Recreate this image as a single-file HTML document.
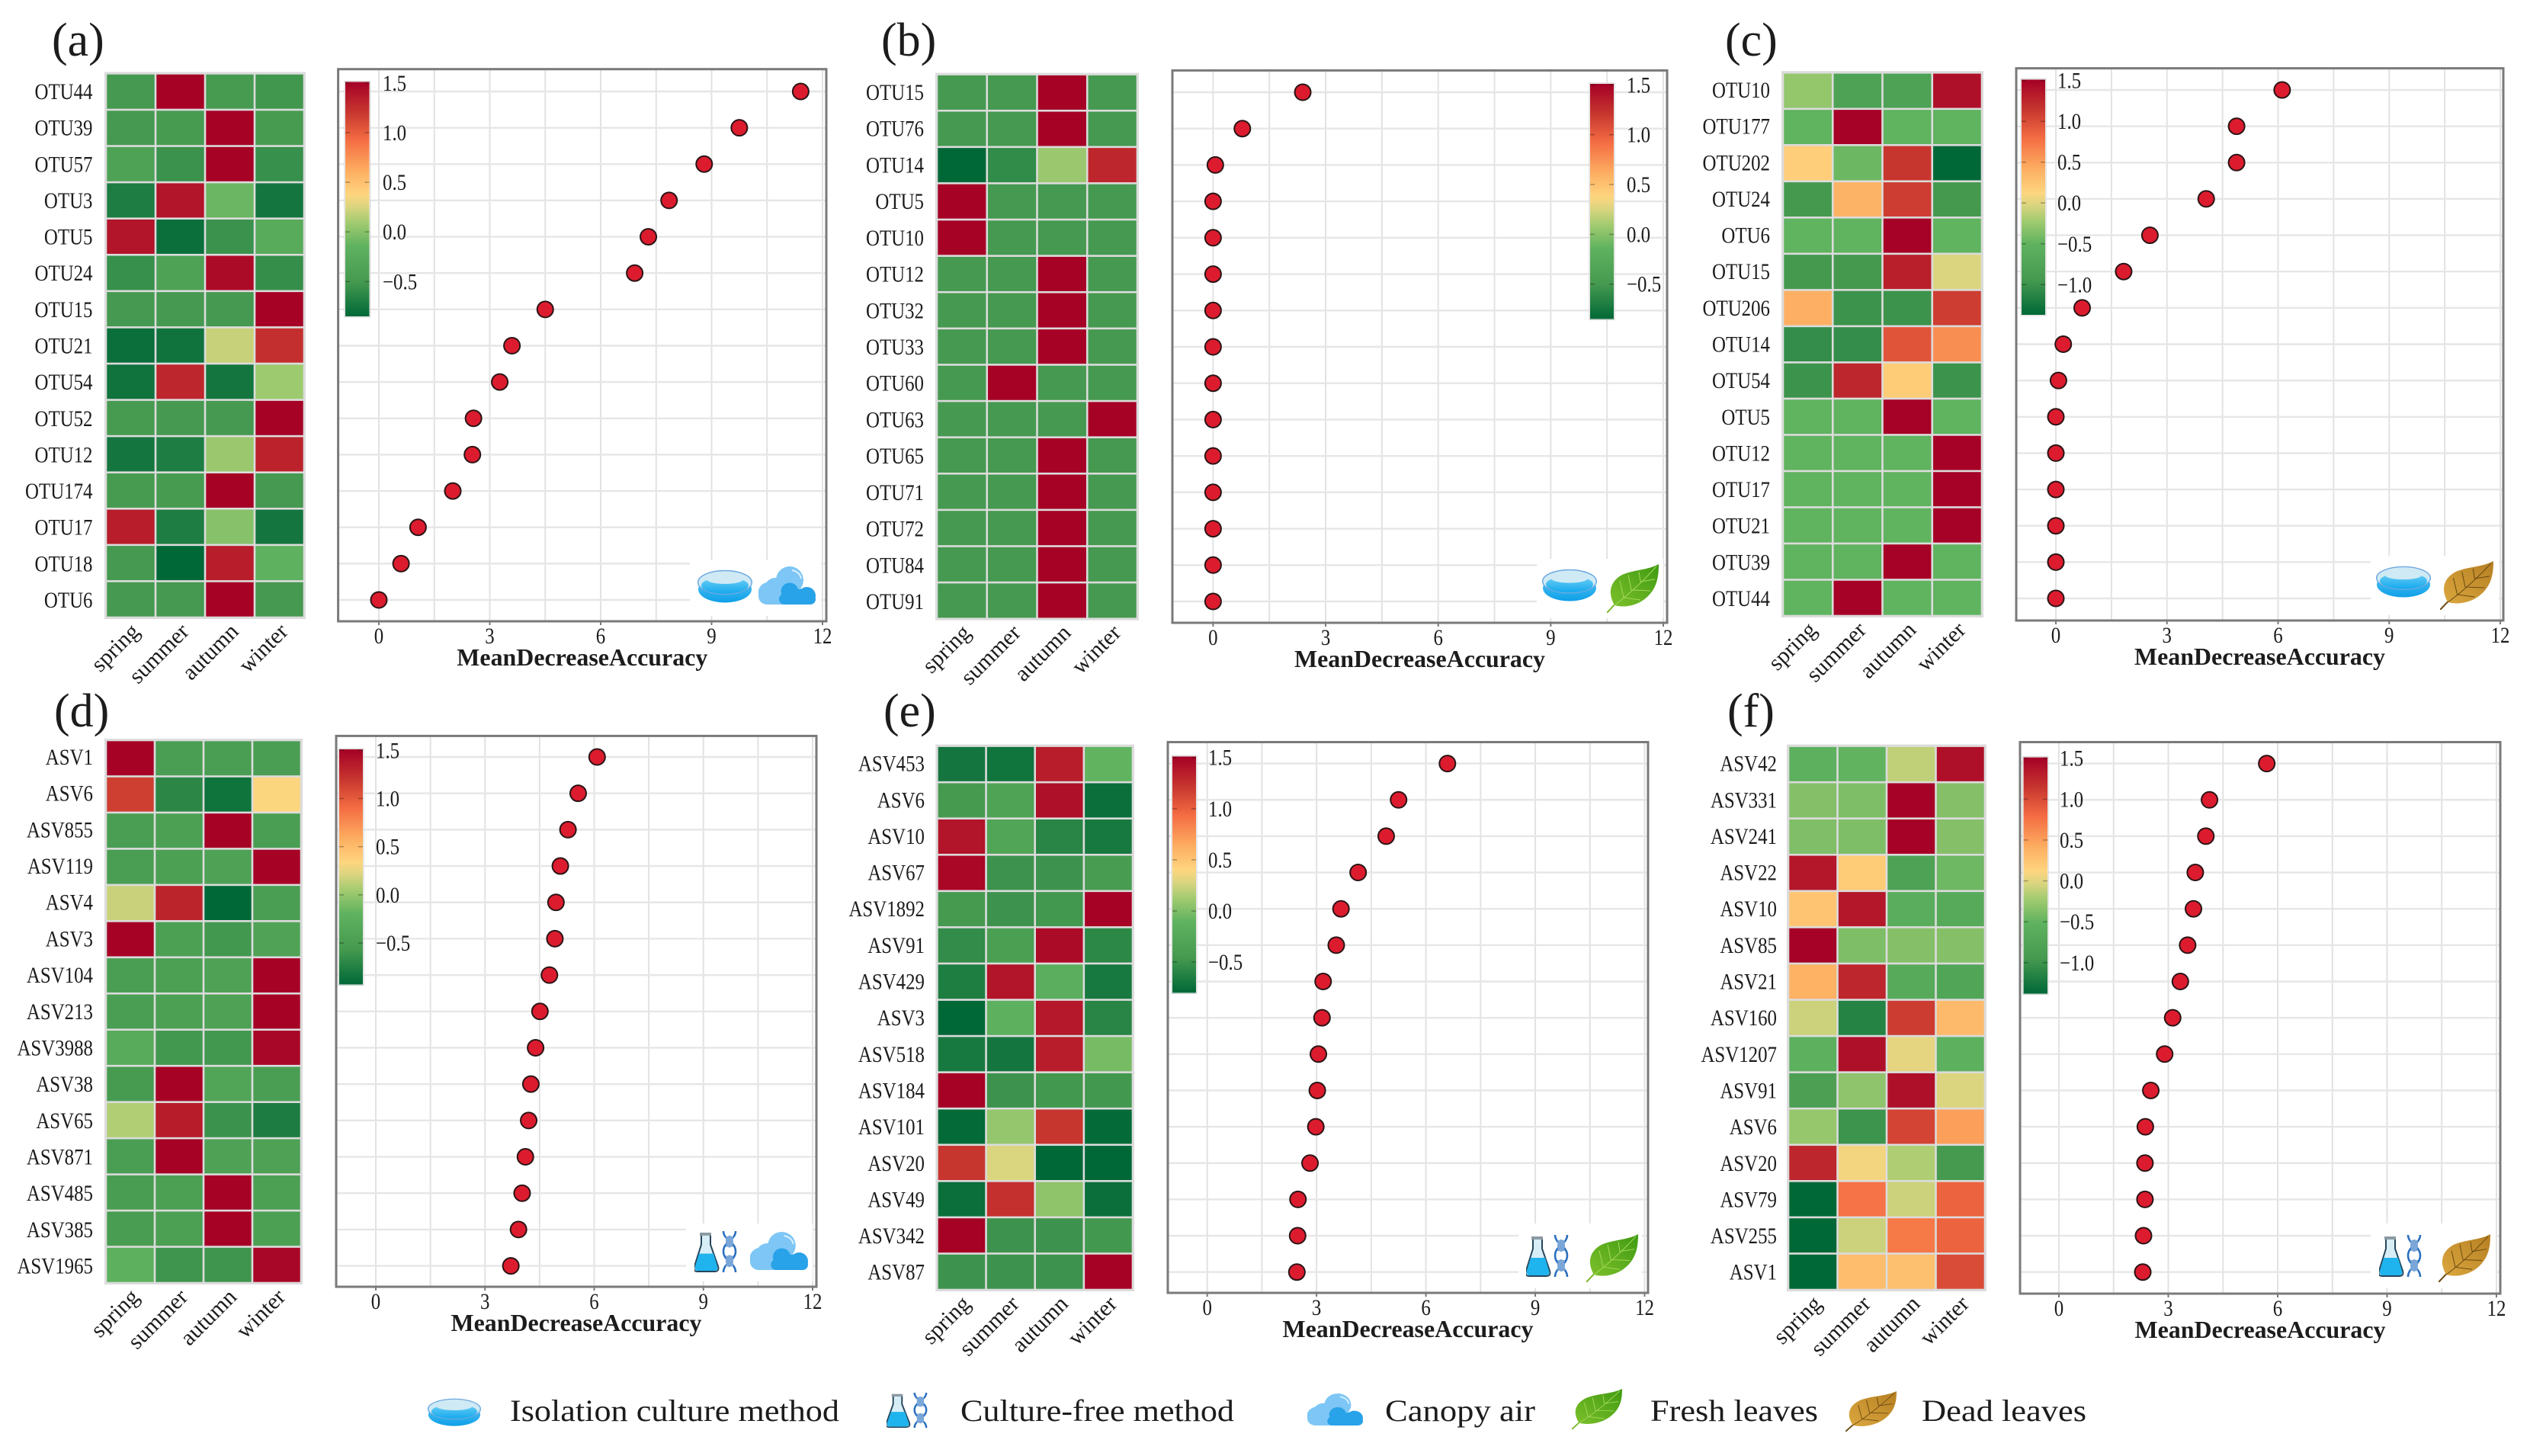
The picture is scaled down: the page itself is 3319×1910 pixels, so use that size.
<!DOCTYPE html>
<html lang="en">
<head>
<meta charset="utf-8">
<title>Indicator taxa by season</title>
<style>
html,body{margin:0;padding:0;background:#fff;}
body{width:3319px;height:1910px;overflow:hidden;}
svg{display:block;}
text{font-family:"Liberation Serif",serif;fill:#1c1c1c;}
</style>
</head>
<body>
<svg id="figure" width="3319" height="1910" viewBox="0 0 3319 1910">
  <defs>
    <linearGradient id="dish-body" x1="0" y1="0" x2="0" y2="1">
      <stop offset="0" stop-color="#5cc8f5"/><stop offset="1" stop-color="#0d9fe8"/>
    </linearGradient>
    <linearGradient id="dish-liquid" x1="0" y1="0" x2="0" y2="1">
      <stop offset="0" stop-color="#6fd0f5"/><stop offset="1" stop-color="#14a8ee"/>
    </linearGradient>
    <linearGradient id="fresh-fill" x1="0" y1="1" x2="1" y2="0">
      <stop offset="0" stop-color="#7cc02a"/><stop offset="1" stop-color="#3f9a12"/>
    </linearGradient>
    <linearGradient id="dead-fill" x1="0" y1="1" x2="1" y2="0">
      <stop offset="0" stop-color="#dba73f"/><stop offset="1" stop-color="#b57f22"/>
    </linearGradient>
    <symbol id="icon-dish" viewBox="0 0 72 44" preserveAspectRatio="none">
      <ellipse cx="36" cy="26" rx="35" ry="17.5" fill="url(#dish-body)"/>
      <ellipse cx="36" cy="17" rx="35.3" ry="15.5" fill="#cfeaf5" stroke="#6fa9e0" stroke-width="1.5"/>
      <ellipse cx="36" cy="21" rx="31" ry="11" fill="url(#dish-liquid)"/>
      <ellipse cx="36" cy="13" rx="24" ry="6" fill="#cfeaf5"/>
    </symbol>
    <symbol id="icon-cloud" viewBox="0 0 75 50" preserveAspectRatio="none">
      <g fill="#7dc6f5">
        <circle cx="41" cy="18" r="18"/><circle cx="22" cy="29" r="14"/><circle cx="14" cy="35" r="14.5"/><rect x="0" y="28" width="62" height="22" rx="11"/>
      </g>
      <g fill="#28a2e8">
        <circle cx="41" cy="33" r="11.5"/><circle cx="63.5" cy="38.5" r="11.5"/><rect x="27" y="36" width="48" height="14" rx="7"/>
        <rect x="35" y="30" width="30" height="20"/>
      </g>
      <path d="M44 5 Q54 7 56 16" stroke="#d8f0fd" stroke-width="2" fill="none"/>
    </symbol>
    <symbol id="icon-fresh-leaf" viewBox="0 0 68 64" preserveAspectRatio="none">
      <path d="M0 64 L13 50" stroke="#7cb82e" stroke-width="2" fill="none"/>
      <path d="M10 54 C2 40 2 24 20 14 C36 7 54 8 68 0 C68 16 66 30 54 42 C42 54 24 58 10 54Z" fill="url(#fresh-fill)"/>
      <path d="M10 54 C26 42 46 24 65 3 M22 44 L17 22 M32 34 L28 14 M44 23 L42 10 M22 44 L44 47 M32 34 L57 35 M44 23 L63 20" stroke="#a5d85c" stroke-width="1" fill="none"/>
    </symbol>
    <symbol id="icon-dead-leaf" viewBox="0 0 68 64" preserveAspectRatio="none">
      <path d="M0 64 L13 50" stroke="#6b4a12" stroke-width="2" fill="none"/>
      <path d="M10 54 C2 40 2 24 20 14 C36 7 54 8 68 0 C68 16 66 30 54 42 C42 54 24 58 10 54Z" fill="url(#dead-fill)"/>
      <path d="M10 54 C26 42 46 24 65 3 M22 44 L17 22 M32 34 L28 14 M44 23 L42 10 M22 44 L44 47 M32 34 L57 35 M44 23 L63 20" stroke="#6b4a12" stroke-width="1" fill="none"/>
    </symbol>
    <symbol id="icon-flask-dna" viewBox="0 0 58 55" preserveAspectRatio="none">
      <path d="M8 4 H20 V18 L30 47 Q32 54 25 54 H3 Q-3 54 -1 47 L8 18 Z" transform="translate(1 0)" fill="#d8eef6" stroke="#26465c" stroke-width="2"/>
      <path d="M5 30 H24 L29 47 Q30 53 25 53 H4 Q-1 53 0 47 Z" transform="translate(1 0)" fill="#1fb4ee"/>
      <rect x="7" y="2" width="15" height="4" fill="#8b9aa3"/>
      <path d="M38 0 C38 12 54 14 54 27 C54 40 38 42 38 55" stroke="#2a6fc0" stroke-width="2.6" fill="none"/>
      <path d="M54 0 C54 12 38 14 38 27 C38 40 54 42 54 55" stroke="#2a6fc0" stroke-width="2.6" fill="none"/>
      <path d="M41 8 H51 M43 14 H49 M41 20 H51 M41 34 H51 M43 40 H49 M41 46 H51" stroke="#7aa6d8" stroke-width="2"/>
      <ellipse cx="46" cy="14" rx="5" ry="8" fill="#7aa6d8"/>
      <ellipse cx="46" cy="40" rx="5" ry="8" fill="#7aa6d8"/>
    </symbol>
  </defs>

  <rect x="0" y="0" width="3319" height="1910" fill="#ffffff"/>
  <g id="panels"></g>

  <g>
    <use href="#icon-dish" x="561" y="1834" width="70" height="37"/>
    <text x="669" y="1864" font-size="40" textLength="432" lengthAdjust="spacingAndGlyphs">Isolation culture method</text>
    <use href="#icon-flask-dna" x="1163" y="1827" width="56" height="46"/>
    <text x="1260" y="1864" font-size="40" textLength="359" lengthAdjust="spacingAndGlyphs">Culture-free method</text>
    <use href="#icon-cloud" x="1715" y="1828" width="73" height="42"/>
    <text x="1817" y="1864" font-size="40" textLength="197" lengthAdjust="spacingAndGlyphs">Canopy air</text>
    <use href="#icon-fresh-leaf" x="2062" y="1822" width="66" height="53"/>
    <text x="2165" y="1864" font-size="40" textLength="220" lengthAdjust="spacingAndGlyphs">Fresh leaves</text>
    <use href="#icon-dead-leaf" x="2421" y="1825" width="67" height="53"/>
    <text x="2521" y="1864" font-size="40" textLength="216" lengthAdjust="spacingAndGlyphs">Dead leaves</text>
  </g>
</svg>

<script>
const seasons = ['spring', 'summer', 'autumn', 'winter'];
const xTickValues = [0, 3, 6, 9, 12];
const xGridValues = [0, 1.5, 3, 4.5, 6, 7.5, 9, 10.5, 12];
const xAxisTitle = 'MeanDecreaseAccuracy';

const taxaA = ['OTU44','OTU39','OTU57','OTU3','OTU5','OTU24','OTU15','OTU21','OTU54','OTU52','OTU12','OTU174','OTU17','OTU18','OTU6'];
const scoresA = [11.41,9.75,8.8,7.85,7.29,6.92,4.5,3.6,3.27,2.56,2.53,2.0,1.06,0.6,0];
const heatA = [
  [-.5,1.5,-.48,-.52],[-.5,-.48,1.5,-.48],[-.38,-.55,1.5,-.57],[-.7,1.4,-.1,-.75],[1.4,-.8,-.55,-.25],
  [-.57,-.38,1.45,-.58],[-.5,-.5,-.5,1.5],[-.8,-.77,.2,1.25],[-.77,1.3,-.75,.08],[-.48,-.5,-.5,1.5],
  [-.75,-.7,.07,1.32],[-.48,-.48,1.5,-.5],[1.35,-.7,0,-.75],[-.5,-.85,1.35,-.15],[-.5,-.5,1.5,-.5]
];
const barTicksA = [-0.5,0,0.5,1,1.5];
const barRangeA = [-0.85,1.51];

const taxaB = ['OTU15','OTU76','OTU14','OTU5','OTU10','OTU12','OTU32','OTU33','OTU60','OTU63','OTU65','OTU71','OTU72','OTU84','OTU91'];
const scoresB = [2.39,0.78,0.06,0,0,0,0,0,0,0,0,0,0,0,0];
const heatB = [
  [-.5,-.5,1.5,-.5],[-.5,-.5,1.5,-.5],[-.85,-.6,.07,1.3],[1.5,-.5,-.5,-.5],[1.5,-.5,-.5,-.5],
  [-.5,-.5,1.5,-.5],[-.5,-.5,1.5,-.5],[-.5,-.5,1.5,-.5],[-.5,1.5,-.5,-.5],[-.5,-.5,-.5,1.5],
  [-.5,-.5,1.5,-.5],[-.5,-.5,1.5,-.5],[-.5,-.5,1.5,-.5],[-.5,-.5,1.5,-.5],[-.5,-.5,1.5,-.5]
];
const barTicksB = [-0.5,0,0.5,1,1.5];
const barRangeB = [-0.85,1.51];

const taxaC = ['OTU10','OTU177','OTU202','OTU24','OTU6','OTU15','OTU206','OTU14','OTU54','OTU5','OTU12','OTU17','OTU21','OTU39','OTU44'];
const scoresC = [6.11,4.88,4.88,4.06,2.54,1.83,0.71,0.2,0.07,0,0,0,0,0,0];
const heatC = [
  [-.28,-.8,-.8,1.4],[-.5,1.5,-.5,-.5],[.18,-.45,1.15,-1.37],[-.95,.38,1.1,-.95],[-.5,-.5,1.5,-.5],
  [-.95,-.95,1.3,-.02],[.4,-1,-1,1.1],[-1.05,-1.05,.95,.6],[-1,1.25,.2,-1],[-.5,-.5,1.5,-.5],
  [-.5,-.5,-.5,1.5],[-.5,-.5,-.5,1.5],[-.5,-.5,-.5,1.5],[-.5,-.5,1.5,-.5],[-.5,1.5,-.5,-.5]
];
const barTicksC = [-1,-0.5,0,0.5,1,1.5];
const barRangeC = [-1.37,1.51];

const taxaD = ['ASV1','ASV6','ASV855','ASV119','ASV4','ASV3','ASV104','ASV213','ASV3988','ASV38','ASV65','ASV871','ASV485','ASV385','ASV1965'];
const scoresD = [6.08,5.56,5.28,5.07,4.95,4.92,4.77,4.51,4.39,4.26,4.2,4.11,4.02,3.92,3.71];
const heatD = [
  [1.5,-.5,-.5,-.5],[1.15,-.7,-.85,.33],[-.5,-.48,1.5,-.5],[-.5,-.47,-.45,1.5],[.16,1.3,-.93,-.5],
  [1.5,-.47,-.58,-.42],[-.5,-.47,-.45,1.5],[-.5,-.47,-.45,1.5],[-.3,-.58,-.58,1.47],[-.55,1.5,-.4,-.5],
  [.09,1.35,-.62,-.78],[-.5,1.5,-.45,-.45],[-.52,-.47,1.5,-.47],[-.52,-.47,1.5,-.47],[-.22,-.6,-.6,1.47]
];
const barTicksD = [-0.5,0,0.5,1,1.5];
const barRangeD = [-0.93,1.51];

const taxaE = ['ASV453','ASV6','ASV10','ASV67','ASV1892','ASV91','ASV429','ASV3','ASV518','ASV184','ASV101','ASV20','ASV49','ASV342','ASV87'];
const scoresE = [6.59,5.25,4.91,4.14,3.67,3.54,3.18,3.15,3.05,3.02,2.98,2.82,2.49,2.48,2.46];
const heatE = [
  [-.7,-.72,1.35,-.1],[-.45,-.33,1.42,-.75],[1.4,-.3,-.6,-.68],[1.47,-.5,-.5,-.42],[-.45,-.5,-.47,1.5],
  [-.55,-.38,1.45,-.58],[-.65,1.4,-.16,-.68],[-.8,-.14,1.38,-.6],[-.68,-.7,1.35,-.02],[1.5,-.5,-.47,-.47],
  [-.78,.08,1.22,-.78],[1.22,.28,-.8,-.8],[-.75,1.25,.06,-.75],[1.5,-.5,-.5,-.47],[-.5,-.5,-.5,1.5]
];
const barTicksE = [-0.5,0,0.5,1,1.5];
const barRangeE = [-0.8,1.51];

const taxaF = ['ASV42','ASV331','ASV241','ASV22','ASV10','ASV85','ASV21','ASV160','ASV1207','ASV91','ASV6','ASV20','ASV79','ASV255','ASV1'];
const scoresF = [5.7,4.13,4.03,3.74,3.69,3.53,3.33,3.12,2.9,2.52,2.37,2.36,2.36,2.32,2.3];
const heatF = [
  [-.55,-.5,-.12,1.4],[-.35,-.38,1.5,-.35],[-.37,-.38,1.5,-.35],[1.35,.2,-.8,-.45],[.25,1.35,-.6,-.65],
  [1.5,-.38,-.35,-.35],[.38,1.25,-.65,-.75],[-.08,-1.15,1.1,.32],[-.55,1.4,.02,-.55],[-.85,-.3,1.4,-.02],
  [-.27,-1,1.05,.5],[1.25,.08,-.18,-.95],[-1.38,.75,-.08,.85],[-1.38,-.08,.72,.85],[-1.38,.3,.28,1]
];
const barTicksF = [-1,-0.5,0,0.5,1,1.5];
const barRangeF = [-1.38,1.51];

const colorStops = [
  [0,'#006837'],[.15,'#469a50'],[.3,'#5fb25f'],[.4,'#a2cb70'],[.47,'#dcd580'],[.52,'#fed57f'],
  [.62,'#fdae61'],[.75,'#f46d43'],[.87,'#c8372f'],[1,'#a50026']
];

const panels = [
  {id:'a',taxa:taxaA,scores:scoresA,heat:heatA,barTicks:barTicksA,barRange:barRangeA,
   box:{heat:[139,399,96.4,810],frame:[443.6,1084,90.7,815],zero:497,twelve:1079,rowTop:120,rowBottom:787,bar:[453,484.5,107.5,415],barText:502,labelRight:121.5,letter:[68,73],
   backing:[905,735,172,73],icons:[['icon-dish',915,747,72,44],['icon-cloud',995,743,75,50]]}},
  {id:'b',taxa:taxaB,scores:scoresB,heat:heatB,barTicks:barTicksB,barRange:barRangeB,
   box:{heat:[1229,1492,97.6,811.7],frame:[1538,2187,92.4,817],zero:1591.4,twelve:2182,rowTop:121,rowBottom:789,bar:[2086,2117,110,418.5],barText:2134,labelRight:1212,letter:[1156,73],
   backing:[2016,733,166,78],icons:[['icon-dish',2023,746,72,43],['icon-fresh-leaf',2108,740,68,64]]}},
  {id:'c',taxa:taxaC,scores:scoresC,heat:heatC,barTicks:barTicksC,barRange:barRangeC,
   box:{heat:[2339,2600,95.3,808],frame:[2645,3284,89.6,814],zero:2697,twelve:3280,rowTop:118,rowBottom:785,bar:[2652,2683,104.5,413],barText:2699,labelRight:2322,letter:[2263,73],
   backing:[3110,729,168,78],icons:[['icon-dish',3117,742,72,42],['icon-dead-leaf',3201,736,70,64]]}},
  {id:'d',taxa:taxaD,scores:scoresD,heat:heatD,barTicks:barTicksD,barRange:barRangeD,
   box:{heat:[139,395,971,1683],frame:[441,1071,965.4,1688],zero:493,twelve:1066,rowTop:993,rowBottom:1660.6,bar:[445,476,983,1291.5],barText:493,labelRight:122,letter:[71,953],
   backing:[900,1605,166,76],icons:[['icon-flask-dna',911,1615,58,54],['icon-cloud',984,1616,76,50]]}},
  {id:'e',taxa:taxaE,scores:scoresE,heat:heatE,barTicks:barTicksE,barRange:barRangeE,
   box:{heat:[1229.4,1486,978.6,1692],frame:[1532,2162,973.5,1696],zero:1583.7,twelve:2157.5,rowTop:1001.6,rowBottom:1668.7,bar:[1538,1569,992.4,1302.4],barText:1585,labelRight:1213,letter:[1159,953],
   backing:[1992,1605,162,85],icons:[['icon-flask-dna',2002,1620,58,55],['icon-fresh-leaf',2081,1619,68,63]]}},
  {id:'f',taxa:taxaF,scores:scoresF,heat:heatF,barTicks:barTicksF,barRange:barRangeF,
   box:{heat:[2346,2604,978.6,1692],frame:[2650,3280,973.5,1697],zero:2701,twelve:3275,rowTop:1001.6,rowBottom:1668.7,bar:[2654.6,2686,993.6,1303.6],barText:2702,labelRight:2331,letter:[2266,953],
   backing:[3110,1605,164,85],icons:[['icon-flask-dna',3121,1620,58,55],['icon-dead-leaf',3199,1619,68,63]]}}
];

const svg = document.getElementById('figure');
const NS = svg.namespaceURI;
const root = document.getElementById('panels');

function make(tag, parent, attrs) {
  const node = document.createElementNS(NS, tag);
  for (const key in attrs) node.setAttribute(key, attrs[key]);
  parent.appendChild(node);
  return node;
}
function hexToRgb(hex) {
  return [parseInt(hex.slice(1,3),16), parseInt(hex.slice(3,5),16), parseInt(hex.slice(5,7),16)];
}
function colorAt(t) {
  const c = Math.max(0, Math.min(1, t));
  for (let i = 1; i < colorStops.length; i++) {
    if (c <= colorStops[i][0]) {
      const a = colorStops[i-1], b = colorStops[i];
      const f = (c - a[0]) / (b[0] - a[0]);
      const ca = hexToRgb(a[1]), cb = hexToRgb(b[1]);
      return 'rgb(' + ca.map((v, k) => Math.round(v + (cb[k] - v) * f)).join(',') + ')';
    }
  }
  return colorStops[colorStops.length-1][1];
}
function formatBarTick(v) {
  return (v < 0 ? '\u2212' : '') + Math.abs(v).toFixed(1);
}

const defs = svg.querySelector('defs');
const barGradient = make('linearGradient', defs, {id:'colorbar-gradient', x1:0, y1:1, x2:0, y2:0});
colorStops.forEach(s => make('stop', barGradient, {offset:s[0], 'stop-color':s[1]}));

panels.forEach(p => {
  const b = p.box;
  const group = make('g', root, {});
  
  

  const letter = make('text', group, {x:b.letter[0], y:b.letter[1], 'font-size':62});
  
  
  letter.textContent = '(' + p.id + ')';

  const rowCount = p.taxa.length;
  const rowY = i => b.rowTop + (b.rowBottom - b.rowTop) * i / (rowCount - 1);
  const xPos = v => b.zero + (b.twelve - b.zero) * v / 12;
  const barY = v => b.bar[2] + (p.barRange[1] - v) / (p.barRange[1] - p.barRange[0]) * (b.bar[3] - b.bar[2]);
  const heatColor = v => colorAt((v - p.barRange[0]) / (p.barRange[1] - p.barRange[0]));

  /* heatmap */
  const heatGroup = make('g', group, {});
  
  
  const heatBg = make('rect', heatGroup, {x:b.heat[0]-2, y:b.heat[2]-2, width:b.heat[1]-b.heat[0]+4, height:b.heat[3]-b.heat[2]+4, fill:'#dcdcdc'});
  
  
  const colW = (b.heat[1] - b.heat[0]) / seasons.length;
  const rowH = (b.heat[3] - b.heat[2]) / rowCount;
  p.heat.forEach((row, r) => {
    row.forEach((value, c) => {
      const cell = make('rect', heatGroup, {
        x: b.heat[0] + c * colW + 1.3, y: b.heat[2] + r * rowH + 1.3,
        width: colW - 2.6, height: rowH - 2.6, fill: heatColor(value)
      });
      
      
    });
    const label = make('text', heatGroup, {
      transform: 'translate(' + b.labelRight + ' ' + (rowY(r) + 10) + ') scale(0.83 1)',
      'text-anchor': 'end', 'font-size': 30
    });
    
    
    label.textContent = p.taxa[r];
  });
  seasons.forEach((season, c) => {
    const cx = b.heat[0] + (c + 0.5) * colW + 13;
    const cy = b.heat[3] + 20;
    const label = make('text', heatGroup, {
      transform: 'translate(' + cx + ' ' + cy + ') rotate(-45)',
      'text-anchor': 'end', 'font-size': 30
    });
    
    
    label.textContent = season;
  });

  /* scatter frame and grid */
  const plot = make('g', group, {});
  
  
  const [fx0, fx1, fy0, fy1] = b.frame;
  const plotBg = make('rect', plot, {x:fx0, y:fy0, width:fx1-fx0, height:fy1-fy0, fill:'#fff'});
  
  
  xGridValues.forEach(v => {
    const line = make('line', plot, {x1:xPos(v), x2:xPos(v), y1:fy0, y2:fy1, stroke:'#e2e2e2', 'stroke-width':2});
    
    
  });
  p.taxa.forEach((t, i) => {
    const line = make('line', plot, {x1:fx0, x2:fx1, y1:rowY(i), y2:rowY(i), stroke:'#e6e6e6', 'stroke-width':2.4});
    
    
  });

  /* inset icons */
  const backing = make('rect', plot, {x:b.backing[0], y:b.backing[1], width:b.backing[2], height:b.backing[3], fill:'#fff'});
  
  
  b.icons.forEach(ic => {
    const icon = make('use', plot, {href:'#' + ic[0], x:ic[1], y:ic[2], width:ic[3], height:ic[4]});
    
    
  });

  /* colorbar */
  const bar = make('g', plot, {});
  
  
  const barBack = make('rect', bar, {x:b.bar[0]-1, y:b.bar[2]-1, width:b.bar[1]-b.bar[0]+2, height:b.bar[3]-b.bar[2]+2, fill:'#fff', stroke:'#cfcfcf', 'stroke-width':1});
  
  
  const barRect = make('rect', bar, {x:b.bar[0], y:b.bar[2], width:b.bar[1]-b.bar[0], height:b.bar[3]-b.bar[2], fill:'url(#colorbar-gradient)'});
  
  
  p.barTicks.forEach(v => {
    const y = barY(v);
    const t1 = make('line', bar, {x1:b.bar[0], x2:b.bar[0]+6, y1:y, y2:y, stroke:'#000', 'stroke-opacity':.3, 'stroke-width':1.5});
    
    
    const t2 = make('line', bar, {x1:b.bar[1]-6, x2:b.bar[1], y1:y, y2:y, stroke:'#000', 'stroke-opacity':.3, 'stroke-width':1.5});
    
    
    const label = make('text', bar, {
      transform: 'translate(' + b.barText + ' ' + (y + 10) + ') scale(0.83 1)',
      'font-size': 30
    });
    
    
    label.textContent = formatBarTick(v);
  });

  /* points */
  p.scores.forEach((score, i) => {
    const dot = make('circle', plot, {cx:xPos(score), cy:rowY(i), r:10.5, fill:'#dc1c2e', stroke:'#2a1416', 'stroke-width':2});
    
    
  });

  /* frame, ticks, labels */
  const frame = make('rect', plot, {x:fx0, y:fy0, width:fx1-fx0, height:fy1-fy0, fill:'none', stroke:'#7a7a7a', 'stroke-width':3});
  
  
  xTickValues.forEach(v => {
    const tick = make('line', plot, {x1:xPos(v), x2:xPos(v), y1:fy1, y2:fy1+5, stroke:'#7a7a7a', 'stroke-width':2});
    
    
    const label = make('text', plot, {
      transform: 'translate(' + xPos(v) + ' ' + (fy1 + 29) + ') scale(0.83 1)',
      'text-anchor': 'middle', 'font-size': 30
    });
    
    
    label.textContent = String(v);
  });
  const title = make('text', plot, {
    x: (fx0 + fx1) / 2, y: fy1 + 58, 'text-anchor': 'middle', 'font-size': 32,
    'font-weight': 'bold', textLength: 329, lengthAdjust: 'spacingAndGlyphs'
  });
  
  
  title.textContent = xAxisTitle;
});
</script>
</body>
</html>
